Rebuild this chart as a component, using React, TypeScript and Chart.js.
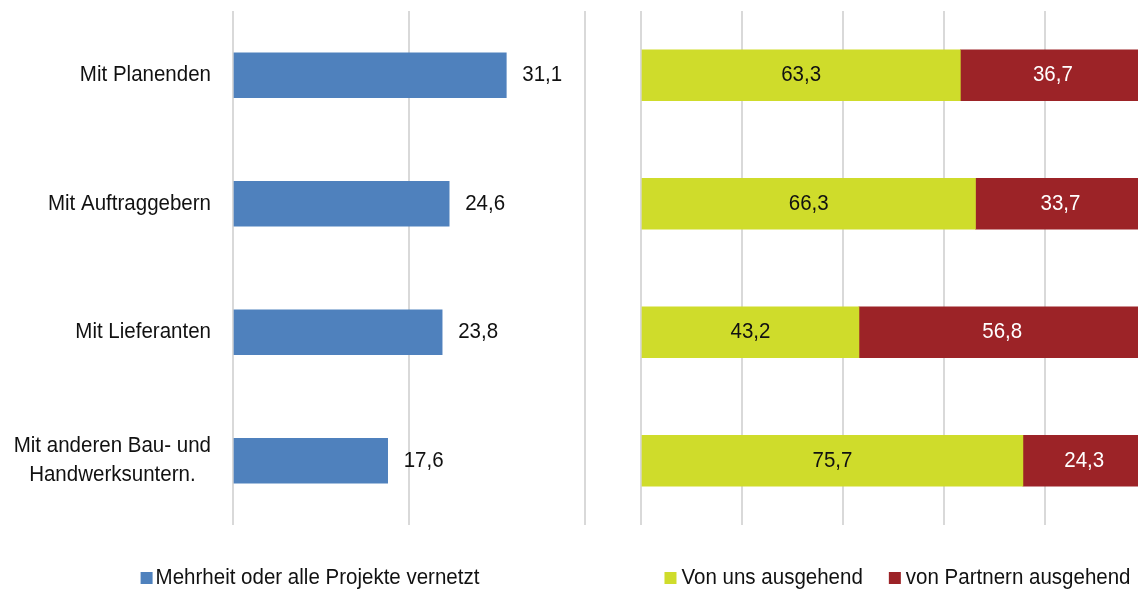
import React, { useEffect, useRef } from 'react';
import { Chart, registerables } from 'chart.js';

Chart.register(...registerables);

// ---------- data ----------
const categories: (string | string[])[] = [
  'Mit Planenden',
  'Mit Auftraggebern',
  'Mit Lieferanten',
  ['Mit anderen Bau- und', 'Handwerksuntern.'],
];
const networkedLabel = 'Mehrheit oder alle Projekte vernetzt';
const networked = [31.1, 24.6, 23.8, 17.6];
const fromUsLabel = 'Von uns ausgehend';
const fromUs = [63.3, 66.3, 43.2, 75.7];
const fromPartnersLabel = 'von Partnern ausgehend';
const fromPartners = [36.7, 33.7, 56.8, 24.3];
const leftAxisMax = 40;
const rightAxisMax = 100;
const tickStep = 20;

// ---------- styles ----------
const FONT = "'Liberation Sans', Arial, sans-serif";
const FONT_SIZE = 22.3;
const NARROW = 0.92; // horizontal condensing to mimic a narrow face
const BLUE = '#4F81BD';
const GREEN = '#CFDC2B';
const RED = '#9C2327';
const GRID = '#D9D9D9';
const TEXT = '#111111';

const fmt = (v: number) => v.toFixed(1).replace('.', ',');

function setFont(ctx: CanvasRenderingContext2D) {
  ctx.font = `${FONT_SIZE}px ${FONT}`;
  ctx.textBaseline = 'middle';
  ctx.textAlign = 'left';
}
function textWidth(ctx: CanvasRenderingContext2D, t: string) {
  return ctx.measureText(t).width * NARROW;
}
function drawText(
  ctx: CanvasRenderingContext2D,
  t: string,
  x: number,
  y: number,
  align: 'left' | 'center' | 'right'
) {
  const w = textWidth(ctx, t);
  const left = align === 'left' ? x : align === 'center' ? x - w / 2 : x - w;
  ctx.save();
  ctx.translate(left, y);
  ctx.scale(NARROW, 1);
  ctx.textAlign = 'left';
  ctx.fillText(t, 0, 0);
  ctx.restore();
}

const categoryLabelsPlugin = {
  id: 'categoryLabels',
  afterDraw(chart: any, _args: any, opts: any) {
    if (!opts || !opts.enabled) return;
    const ctx = chart.ctx as CanvasRenderingContext2D;
    const yScale = chart.scales.y;
    const labels = chart.data.labels as (string | string[])[];
    ctx.save();
    setFont(ctx);
    ctx.fillStyle = TEXT;
    const right = chart.chartArea.left - opts.gap;
    labels.forEach((lab, i) => {
      const lines = Array.isArray(lab) ? lab : [lab];
      const maxW = Math.max(...lines.map((l) => textWidth(ctx, l)));
      const cy = yScale.getPixelForValue(i);
      const cx = right - maxW / 2;
      lines.forEach((line, j) => {
        const ly = cy + (j - (lines.length - 1) / 2) * opts.lineHeight;
        drawText(ctx, line, cx, ly, 'center');
      });
    });
    ctx.restore();
  },
};

const valueLabelsPlugin = {
  id: 'valueLabels',
  afterDatasetsDraw(chart: any, _args: any, opts: any) {
    if (!opts || !opts.mode) return;
    const ctx = chart.ctx as CanvasRenderingContext2D;
    ctx.save();
    setFont(ctx);
    chart.data.datasets.forEach((ds: any, di: number) => {
      const meta = chart.getDatasetMeta(di);
      meta.data.forEach((bar: any, i: number) => {
        const { x, y, base } = bar.getProps(['x', 'y', 'base'], true);
        const txt = fmt(ds.data[i]);
        ctx.fillStyle = opts.colors[di];
        if (opts.mode === 'outside') {
          drawText(ctx, txt, x + opts.offset, y, 'left');
        } else {
          drawText(ctx, txt, (x + base) / 2, y, 'center');
        }
      });
    });
    ctx.restore();
  },
};

const customLegendPlugin = {
  id: 'customLegend',
  afterDraw(chart: any, _args: any, opts: any) {
    if (!opts || !opts.enabled) return;
    const ctx = chart.ctx as CanvasRenderingContext2D;
    ctx.save();
    setFont(ctx);
    const items = chart.data.datasets.map((ds: any) => ({
      text: ds.label as string,
      color: ds.backgroundColor as string,
      w: textWidth(ctx, ds.label),
    }));
    const total =
      items.reduce((s: number, it: any) => s + opts.box + opts.boxGap + it.w, 0) +
      opts.itemGap * (items.length - 1);
    let x = opts.centerX - total / 2;
    items.forEach((it: any) => {
      ctx.fillStyle = it.color;
      ctx.fillRect(x, opts.y - opts.box / 2, opts.box, opts.box);
      x += opts.box + opts.boxGap;
      ctx.fillStyle = TEXT;
      drawText(ctx, it.text, x, opts.y, 'left');
      x += it.w + opts.itemGap;
    });
    ctx.restore();
  },
};

const PLOT_TOP = 11;
const PLOT_BOTTOM = 525;
const H = 592;

function LeftChart() {
  const ref = useRef<HTMLCanvasElement>(null);
  useEffect(() => {
    if (!ref.current) return;
    const chart = new Chart(ref.current, {
      type: 'bar',
      data: {
        labels: categories as any,
        datasets: [
          {
            label: networkedLabel,
            data: networked,
            backgroundColor: BLUE,
            barThickness: 45,
          },
        ],
      },
      options: {
        indexAxis: 'y',
        animation: false,
        responsive: false,
        maintainAspectRatio: false,
        layout: { padding: { top: PLOT_TOP, bottom: H - PLOT_BOTTOM, left: 0, right: 15.5 } },
        plugins: {
          legend: { display: false },
          tooltip: { enabled: false },
          categoryLabels: { enabled: true, gap: 22, lineHeight: 29 },
          valueLabels: { mode: 'outside', offset: 16, colors: [TEXT] },
          customLegend: { enabled: true, centerX: 310, y: 578, box: 12, boxGap: 3, itemGap: 26 },
        } as any,
        scales: {
          x: {
            min: 0,
            max: leftAxisMax,
            ticks: { display: false, stepSize: tickStep },
            grid: { color: GRID, lineWidth: 2, drawTicks: false },
            border: { display: false },
            afterFit: (s: any) => {
              s.height = 0;
            },
          },
          y: {
            ticks: { display: false },
            grid: { display: false },
            border: { display: false },
            afterFit: (s: any) => {
              s.width = 233;
            },
          },
        },
      },
      plugins: [categoryLabelsPlugin, valueLabelsPlugin, customLegendPlugin],
    });
    return () => chart.destroy();
  }, []);
  return (
    <canvas
      ref={ref}
      width={600}
      height={H}
      style={{ position: 'absolute', left: 0, top: 0, width: 600, height: H }}
    />
  );
}

function RightChart() {
  const ref = useRef<HTMLCanvasElement>(null);
  useEffect(() => {
    if (!ref.current) return;
    const chart = new Chart(ref.current, {
      type: 'bar',
      data: {
        labels: categories as any,
        datasets: [
          { label: fromUsLabel, data: fromUs, backgroundColor: GREEN, barThickness: 51 },
          { label: fromPartnersLabel, data: fromPartners, backgroundColor: RED, barThickness: 51 },
        ],
      },
      options: {
        indexAxis: 'y',
        animation: false,
        responsive: false,
        maintainAspectRatio: false,
        layout: { padding: { top: PLOT_TOP, bottom: H - PLOT_BOTTOM, left: 41, right: 14.5 } },
        plugins: {
          legend: { display: false },
          tooltip: { enabled: false },
          valueLabels: { mode: 'inside', colors: [TEXT, '#FFFFFF'] },
          customLegend: { enabled: true, centerX: 297.5, y: 578, box: 12, boxGap: 5, itemGap: 26 },
        } as any,
        scales: {
          x: {
            stacked: true,
            min: 0,
            max: rightAxisMax,
            ticks: { display: false, stepSize: tickStep },
            grid: { color: GRID, lineWidth: 2, drawTicks: false },
            border: { display: false },
            afterFit: (s: any) => {
              s.height = 0;
            },
          },
          y: {
            stacked: true,
            display: false,
          },
        },
      },
      plugins: [valueLabelsPlugin, customLegendPlugin],
    });
    return () => chart.destroy();
  }, []);
  return (
    <canvas
      ref={ref}
      width={560}
      height={H}
      style={{ position: 'absolute', left: 600, top: 0, width: 560, height: H }}
    />
  );
}

export default function App() {
  return (
    <div
      style={{
        position: 'fixed',
        left: 0,
        top: 0,
        width: 1138,
        height: H,
        overflow: 'hidden',
        background: '#FFFFFF',
      }}
    >
      <LeftChart />
      <RightChart />
    </div>
  );
}
